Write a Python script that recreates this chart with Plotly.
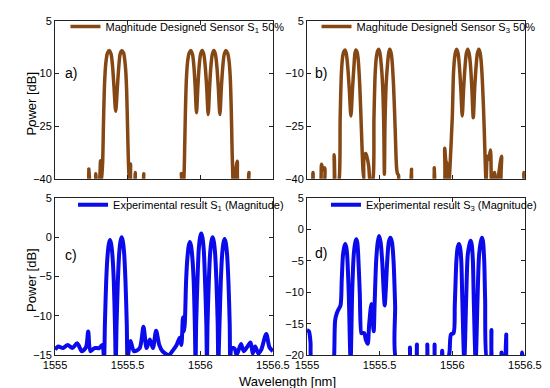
import plotly.graph_objects as go

# ---------------- data ----------------
# Panel a) designed sensor S1 (magnitude, dB)
lam_a = [1555.000, 1555.225, 1555.2326, 1555.240, 1555.272, 1555.2804, 1555.289, 1555.305, 1555.313, 1555.320,
         1555.3280, 1555.3330, 1555.3390, 1555.3450, 1555.3520, 1555.3610, 1555.3739, 1555.3860, 1555.3960,
         1555.4060, 1555.4174, 1555.4290, 1555.4390, 1555.4480, 1555.4587, 1555.4720, 1555.4800, 1555.4870,
         1555.4930, 1555.4990, 1555.5050, 1555.5110, 1555.5196, 1555.526, 1555.545, 1555.5522, 1555.560,
         1555.600, 1555.6109, 1555.620, 1555.860, 1555.8696, 1555.878, 1555.8870, 1555.8930, 1555.8980,
         1555.9050, 1555.9130, 1555.9230, 1555.9348, 1555.9460, 1555.9560, 1555.9650, 1555.9739, 1555.9830,
         1555.9920, 1556.0020, 1556.0130, 1556.0240, 1556.0340, 1556.0440, 1556.0543, 1556.0640, 1556.0730,
         1556.0830, 1556.0935, 1556.1040, 1556.1140, 1556.1240, 1556.1348, 1556.1450, 1556.1550, 1556.1650,
         1556.1761, 1556.1880, 1556.1980, 1556.2060, 1556.2130, 1556.2180, 1556.2230, 1556.228, 1556.2543,
         1556.262, 1556.320, 1556.3348, 1556.345, 1556.500]
pow_a = [-45, -45, -37.2, -45, -45, -38.6, -45, -42, -34.9, -41,
         -35, -25, -15, -9.5, -6.2, -4.2, -3.5, -4.5, -8,
         -14, -20.8, -14, -8, -4.5, -3.5, -4.2, -6.2, -9.5,
         -15, -25, -35, -40, -35.8, -42, -42, -38.2, -45,
         -45, -38.6, -45, -45, -38.5, -44, -40, -30, -20,
         -11, -6.5, -4.2, -3.5, -4.5, -8, -14, -21.2, -14,
         -8, -4.5, -3.5, -4.5, -8, -14, -21.7, -14, -8,
         -4.5, -3.5, -4.5, -8, -14, -21.7, -14, -8, -4.5,
         -3.5, -4.2, -6.5, -11, -20, -30, -38, -42, -35,
         -42, -45, -38.2, -45, -45]

# Panel b) designed sensor S3
lam_b = [1555.000, 1555.030, 1555.0413, 1555.052, 1555.085, 1555.100, 1555.110, 1555.1217, 1555.130, 1555.175,
         1555.187, 1555.197, 1555.2217, 1555.2283, 1555.2370, 1555.2457, 1555.2530, 1555.2609, 1555.2700,
         1555.2800, 1555.2910, 1555.3022, 1555.3130, 1555.3230, 1555.3300, 1555.3370, 1555.3450, 1555.3522,
         1555.3630, 1555.3739, 1555.3848, 1555.390, 1555.3935, 1555.405, 1555.415, 1555.425, 1555.437,
         1555.4543, 1555.4609, 1555.4696, 1555.4783, 1555.4860, 1555.4935, 1555.5020, 1555.5110, 1555.5200,
         1555.5280, 1555.5326, 1555.5370, 1555.5450, 1555.5540, 1555.5620, 1555.5696, 1555.5780, 1555.5848,
         1555.5957, 1555.6065, 1555.6174, 1555.6235, 1555.630, 1555.6348, 1555.710, 1555.7196, 1555.728,
         1555.866, 1555.8761, 1555.885, 1555.937, 1555.9478, 1555.956, 1555.965, 1555.975, 1555.9826,
         1556.0000, 1556.0087, 1556.0174, 1556.0240, 1556.0304, 1556.0400, 1556.0490, 1556.0590, 1556.0685,
         1556.0780, 1556.0880, 1556.0970, 1556.1065, 1556.1160, 1556.1260, 1556.1350, 1556.1446, 1556.1540,
         1556.1640, 1556.1730, 1556.1826, 1556.1910, 1556.1978, 1556.2087, 1556.2196, 1556.2283, 1556.233,
         1556.2413, 1556.250, 1556.2630, 1556.272, 1556.2913, 1556.300, 1556.3391, 1556.349, 1556.480,
         1556.4935, 1556.500]
pow_b = [-45, -45, -38.2, -45, -45, -35.9, -37.5, -36.9, -45, -45,
         -33.2, -45, -40, -22.6, -9.7, -5.1, -3.8, -3.3, -4.3,
         -8, -14.5, -22.1, -14.5, -8, -4.3, -3.3, -4.0, -6.0,
         -13.4, -25.4, -37.3, -40, -33.5, -32.8, -34.2, -36.5, -42,
         -40, -22.6, -9.7, -5.1, -3.6, -3.1, -4.2, -7.5, -13,
         -24, -38.7, -24, -13, -7.5, -4.2, -3.1, -4.0, -6.0,
         -13.4, -25.4, -37.3, -38.6, -39, -42, -45, -37.3, -45,
         -45, -36.9, -45, -44, -31.3, -35, -36, -44, -38,
         -22.6, -9.7, -5.1, -3.7, -3.1, -4.3, -8, -14.5, -22.1,
         -14.5, -8, -4.3, -3.1, -4.3, -8, -14.5, -22.6, -14.5,
         -8, -4.3, -3.1, -4.0, -6.0, -13.4, -25.4, -37.3, -41,
         -33.6, -34.5, -31.8, -42, -38.2, -44, -33.6, -44, -45,
         -38.2, -40]

# Panel c) experimental S1
lam_c = [1555.000, 1555.0217, 1555.0543, 1555.087, 1555.1196, 1555.1522, 1555.1848, 1555.213, 1555.2283,
         1555.2435, 1555.2717, 1555.3043, 1555.3261, 1555.3370, 1555.3433, 1555.3523, 1555.3613, 1555.3703,
         1555.3783, 1555.3863, 1555.3953, 1555.4043, 1555.4123, 1555.4180, 1555.4237, 1555.4327, 1555.4417,
         1555.4507, 1555.4587, 1555.4667, 1555.4757, 1555.4847, 1555.4937, 1555.4990, 1555.5060, 1555.5196,
         1555.5435, 1555.5826, 1555.6087, 1555.6304, 1555.6522, 1555.6739, 1555.6957, 1555.7174, 1555.7391,
         1555.7826, 1555.8152, 1555.837, 1555.8587, 1555.8696, 1555.8804, 1555.8880, 1555.8933, 1555.9023,
         1555.9113, 1555.9203, 1555.9283, 1555.9363, 1555.9453, 1555.9543, 1555.9623, 1555.9674, 1555.9715,
         1555.9805, 1555.9895, 1555.9985, 1556.0065, 1556.0145, 1556.0235, 1556.0325, 1556.0415, 1556.0457,
         1556.0498, 1556.0588, 1556.0678, 1556.0768, 1556.0848, 1556.0928, 1556.1018, 1556.1108, 1556.1198,
         1556.1240, 1556.1324, 1556.1414, 1556.1504, 1556.1594, 1556.1674, 1556.1754, 1556.1844, 1556.1934,
         1556.2024, 1556.2065, 1556.215, 1556.237, 1556.250, 1556.2804, 1556.300, 1556.3457, 1556.3609,
         1556.3783, 1556.400, 1556.420, 1556.4543, 1556.4761, 1556.500]
pow_c = [-14.3, -13.9, -14.1, -13.7, -14.1, -13.5, -14.5, -14.0, -12.0,
         -14.5, -14.1, -14.1, -13.7, -15.5, -11.0, -5.5, -2.35, -0.85,
         -0.35, -0.85, -2.35, -5.5, -11.0, -16.0, -11.0, -5.5, -2.0,
         -0.5, 0.0, -0.5, -2.0, -5.5, -11.0, -15.5, -14.6, -13.2,
         -14.5, -14.1, -11.4, -14.1, -13.0, -14.1, -11.9, -13.7, -14.5,
         -15.0, -14.3, -13.7, -12.8, -13.7, -10.2, -12.0, -11.0, -5.5,
         -2.6, -1.1, -0.6, -1.1, -2.6, -5.5, -11.0, -16.0, -11.0,
         -5.5, -1.5, 0.0, 0.49, 0.0, -1.5, -5.5, -11.0, -16.0,
         -11.0, -5.5, -2.0, -0.5, 0.0, -0.5, -2.0, -5.5, -11.0,
         -16.0, -11.0, -5.5, -2.2, -0.7, -0.2, -0.7, -2.2, -5.5,
         -11.0, -15.5, -14.1, -14.2, -15.0, -13.6, -14.5, -13.4, -14.8,
         -13.9, -14.8, -14.3, -12.3, -14.0, -14.5]

# Panel d) experimental S3
lam_d = [1555.000, 1555.013, 1555.024, 1555.0326, 1555.100, 1555.180, 1555.187, 1555.1935, 1555.2043,
         1555.2152, 1555.2304, 1555.2391, 1555.2478, 1555.2560, 1555.2630, 1555.2700, 1555.2761, 1555.2870,
         1555.300, 1555.3109, 1555.3217, 1555.3320, 1555.3391, 1555.3460, 1555.3522, 1555.3630, 1555.3739,
         1555.3783, 1555.3935, 1555.4043, 1555.4174, 1555.4283, 1555.4435, 1555.4587, 1555.4652, 1555.4761,
         1555.4870, 1555.4957, 1555.5065, 1555.5174, 1555.5283, 1555.5348, 1555.5413, 1555.5522, 1555.5630,
         1555.5739, 1555.5848, 1555.5957, 1555.6065, 1555.6174, 1555.700, 1555.7087, 1555.717, 1555.748,
         1555.7565, 1555.765, 1555.820, 1555.8283, 1555.837, 1555.870, 1555.8783, 1555.887, 1555.922,
         1555.9304, 1555.939, 1555.978, 1555.9913, 1556.0087, 1556.0174, 1556.0283, 1556.0370, 1556.0457,
         1556.0540, 1556.0620, 1556.0690, 1556.0826, 1556.0957, 1556.1065, 1556.1180, 1556.1261, 1556.1340,
         1556.1420, 1556.1478, 1556.1609, 1556.1739, 1556.1848, 1556.1970, 1556.2043, 1556.2115, 1556.2200,
         1556.2261, 1556.2413, 1556.2609, 1556.2696, 1556.2783, 1556.330, 1556.3391, 1556.348, 1556.364,
         1556.3717, 1556.380, 1556.470, 1556.4804, 1556.490, 1556.500]
pow_d = [-16.0, -16.2, -18.0, -21.0, -22.0, -22.0, -20.0, -14.5, -13.4,
         -12.8, -12.1, -8.0, -4.0, -2.8, -2.3, -2.8, -4.0, -10.0,
         -21.0, -10.0, -4.0, -2.1, -1.55, -2.1, -4.0, -10.0, -16.5,
         -16.5, -16.5, -17.5, -18.2, -15.0, -11.85, -16.2, -12.0, -5.0,
         -2.0, -1.03, -2.0, -5.0, -10.0, -12.1, -10.0, -5.0, -2.0,
         -1.3, -2.0, -5.0, -12.0, -21.0, -22.0, -18.8, -22.0, -22.0,
         -18.3, -22.0, -22.0, -18.3, -22.0, -22.0, -18.3, -22.0, -22.0,
         -19.3, -22.0, -20.0, -16.7, -16.5, -12.0, -5.0, -2.9, -2.3,
         -2.9, -5.0, -11.0, -21.0, -11.0, -4.0, -2.4, -1.8, -2.4,
         -5.0, -11.0, -21.0, -11.0, -4.0, -1.9, -1.3, -1.9, -5.0,
         -11.0, -21.0, -21.0, -16.0, -21.0, -22.0, -19.6, -22.0, -22.0,
         -16.7, -22.0, -22.0, -19.6, -21.0, -20.5]

xticks = [1555, 1555.5, 1556, 1556.5]
xticklabels = ["1555", "1555.5", "1556", "1556.5"]
yticks_ab = [5, -10, -25, -40]
yticks_c = [5, 0, -5, -10, -15]
yticks_d = [5, 0, -5, -10, -15, -20]

name_a = "Magnitude Designed Sensor S<sub>1</sub> 50%"
name_b = "Magnitude Designed Sensor S<sub>3</sub> 50%"
name_c = "Experimental result S<sub>1</sub> (Magnitude)"
name_d = "Experimental result S<sub>3</sub> (Magnitude)"

BROWN = "rgb(133,72,20)"
BLUE = "rgb(10,10,235)"
FONT = "Liberation Sans, Arial, sans-serif"

fig = go.Figure()
fig.add_trace(go.Scatter(x=lam_a, y=pow_a, mode="lines", name=name_a,
                         line=dict(color=BROWN, width=3.5, shape="spline", smoothing=0.8),
                         xaxis="x", yaxis="y", legend="legend"))
fig.add_trace(go.Scatter(x=lam_b, y=pow_b, mode="lines", name=name_b,
                         line=dict(color=BROWN, width=3.5, shape="spline", smoothing=0.8),
                         xaxis="x2", yaxis="y2", legend="legend2"))
fig.add_trace(go.Scatter(x=lam_c, y=pow_c, mode="lines", name=name_c,
                         line=dict(color=BLUE, width=4, shape="spline", smoothing=0.8),
                         xaxis="x3", yaxis="y3", legend="legend3"))
fig.add_trace(go.Scatter(x=lam_d, y=pow_d, mode="lines", name=name_d,
                         line=dict(color=BLUE, width=4, shape="spline", smoothing=0.8),
                         xaxis="x4", yaxis="y4", legend="legend4"))

W, H = 550, 388
dx_left = [37 / W, 267 / W]
dx_right = [303 / W, 533 / W]
dy_top = [1 - 170 / H, 1 - 7 / H]
dy_bot = [1 - 352 / H, 1 - 190 / H]

def xax(domain, anchor, labels):
    return dict(domain=domain, anchor=anchor, range=[1555, 1556.5], tickvals=xticks, ticktext=xticklabels,
                showticklabels=labels, ticks="inside", ticklen=4, tickcolor="#222", showline=True, linecolor="#222",
                linewidth=1, mirror="ticks", showgrid=False, zeroline=False,
                tickfont=dict(family=FONT, size=11, color="black"))

def yax(domain, anchor, rng, tv):
    return dict(domain=domain, anchor=anchor, range=rng, tickvals=tv, ticks="inside", ticklen=4, tickcolor="#222",
                showline=True, linecolor="#222", linewidth=1, mirror="ticks", showgrid=False, zeroline=False,
                tickfont=dict(family=FONT, size=11, color="black"))

def leg(x, ytop):
    return dict(x=x / W, y=1 - ytop / H, xanchor="left", yanchor="top", bgcolor="rgba(0,0,0,0)",
                borderwidth=0, font=dict(family=FONT, size=11, color="black"), tracegroupgap=0)

fig.update_layout(
    width=W, height=H, margin=dict(l=0, r=0, t=0, b=0),
    paper_bgcolor="white", plot_bgcolor="white", showlegend=True,
    font=dict(family=FONT, size=11, color="black"),
    xaxis=xax(dx_left, "y", False), yaxis=yax(dy_top, "x", [-40, 5], yticks_ab),
    xaxis2=xax(dx_right, "y2", False), yaxis2=yax(dy_top, "x2", [-40, 5], yticks_ab),
    xaxis3=xax(dx_left, "y3", True), yaxis3=yax(dy_bot, "x3", [-15, 5], yticks_c),
    xaxis4=xax(dx_right, "y4", True), yaxis4=yax(dy_bot, "x4", [-20, 5], yticks_d),
    legend=leg(48, -2), legend2=leg(313, -2), legend3=leg(56, 182), legend4=leg(323, 182),
)

ann = [
    dict(text="Power [dB]", x=12 / W, y=1 - 92 / H, textangle=-90, font=dict(size=13)),
    dict(text="Power [dB]", x=12 / W, y=1 - 274 / H, textangle=-90, font=dict(size=13)),
    dict(text="Wavelength [nm]", x=282 / W, y=1 - 379 / H, font=dict(size=13)),
    dict(text="a)", x=54 / W, y=1 - 61 / H, font=dict(size=14)),
    dict(text="b)", x=318 / W, y=1 - 61 / H, font=dict(size=14)),
    dict(text="c)", x=54 / W, y=1 - 249 / H, font=dict(size=14)),
    dict(text="d)", x=318 / W, y=1 - 247 / H, font=dict(size=14)),
]
for a in ann:
    a.update(xref="paper", yref="paper", showarrow=False, xanchor="center", yanchor="middle")
    a["font"].update(family=FONT, color="black")
fig.update_layout(annotations=ann)

fig.write_html("out.html")
